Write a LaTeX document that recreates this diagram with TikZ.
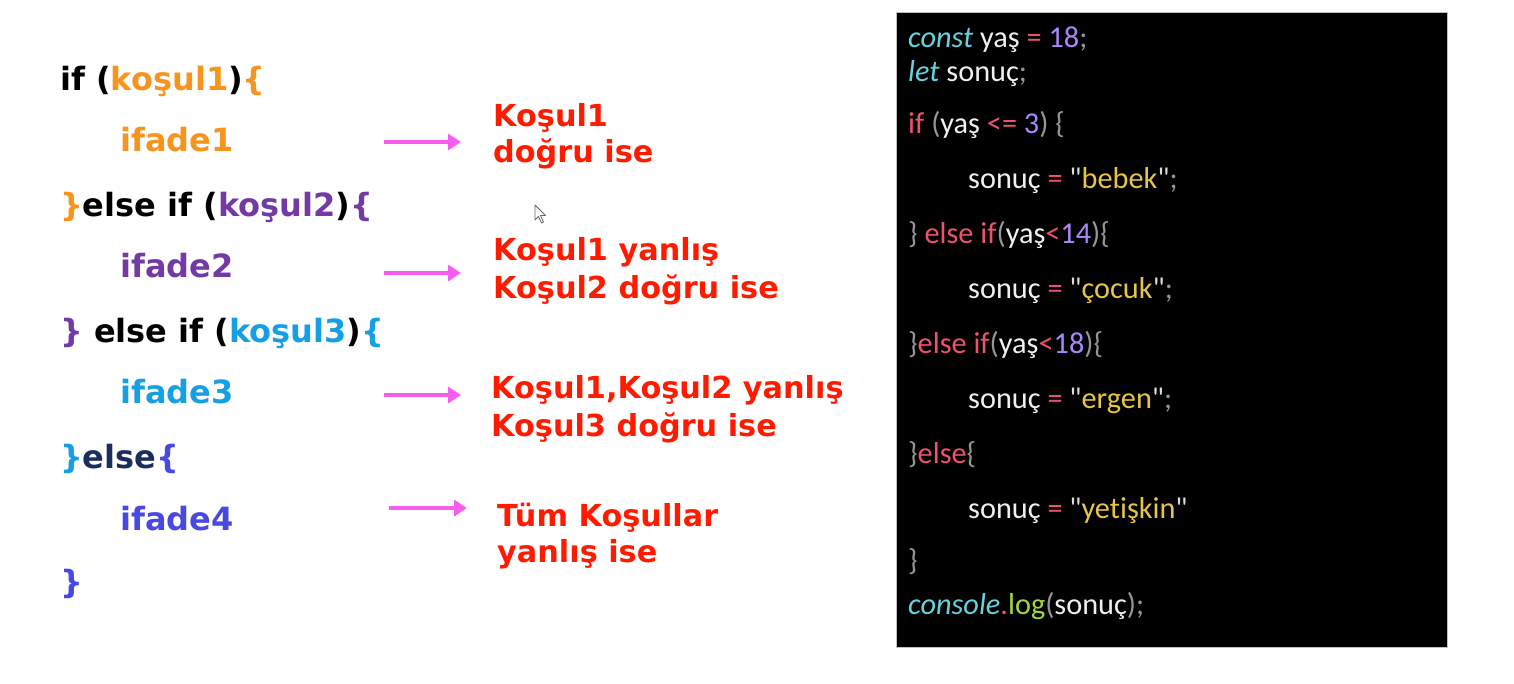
\documentclass[tikz,border=0pt]{standalone}
\usepackage{fontspec}
\usetikzlibrary{arrows.meta}
\newfontfamily\slidefont{DejaVu Sans}
\newfontfamily\codefont[Ligatures=CommonOff]{Carlito}

% slide colours
\definecolor{korange}{RGB}{247,148,30}
\definecolor{kpurple}{RGB}{115,58,165}
\definecolor{kcyan}{RGB}{22,160,228}
\definecolor{knavy}{RGB}{28,45,92}
\definecolor{kblue}{RGB}{72,72,226}
\definecolor{notered}{RGB}{255,26,0}
\definecolor{pinkarrow}{RGB}{245,92,240}
% editor colours
\definecolor{cwhite}{RGB}{240,240,240}
\definecolor{ckey}{RGB}{102,210,222}
\definecolor{cop}{RGB}{238,82,110}
\definecolor{cnum}{RGB}{170,135,250}
\definecolor{cpun}{RGB}{150,150,150}
\definecolor{cquo}{RGB}{220,220,220}
\definecolor{cstr}{RGB}{232,196,72}
\definecolor{clog}{RGB}{160,215,60}

\tikzset{
  syntax/.style={anchor=base west, inner sep=0pt, text=black,
    font=\slidefont\bfseries\fontsize{32}{36}\selectfont},
  note/.style={anchor=base west, inner sep=0pt, text=notered,
    font=\slidefont\bfseries\fontsize{30.3}{36}\selectfont},
  code/.style={anchor=base west, inner sep=0pt, text=cwhite,
    font=\codefont\fontsize{30.3}{36}\selectfont},
  pinkpointer/.style={draw=pinkarrow, line width=3.8pt,
    -{Triangle[length=13pt,width=16pt,fill=pinkarrow]}},
}

\begin{document}
\begin{tikzpicture}[x=1pt,y=-1pt]
\fill[white] (0,0) rectangle (1514,683);
\useasboundingbox (0,0) rectangle (1514,683);

% ---- general if / else if / else form ----
\node[syntax] (l1) at (60,90)  {if ({\color{korange}koşul1}){\color{korange}\{}};
\node[syntax] (l2) at (120,151) {\color{korange}ifade1};
\node[syntax] (l3) at (60,216) {{\color{korange}\}}else if ({\color{kpurple}koşul2}){\color{kpurple}\{}};
\node[syntax] (l4) at (120,277) {\color{kpurple}ifade2};
\node[syntax] (l5) at (60,342) {{\color{kpurple}\}} else if ({\color{kcyan}koşul3}){\color{kcyan}\{}};
\node[syntax] (l6) at (120,403) {\color{kcyan}ifade3};
\node[syntax] (l7) at (60,468) {{\color{kcyan}\}}{\color{knavy}else}{\color{kblue}\{}};
\node[syntax] (l8) at (120,530) {\color{kblue}ifade4};
\node[syntax] (l9) at (60,593) {\color{kblue}\}};

% ---- explanations ----
\node[note] (n1a) at (493,126) {Koşul1};
\node[note] (n1b) at (493,162) {doğru ise};
\node[note] (n2a) at (493,260) {Koşul1 yanlış};
\node[note] (n2b) at (493,298) {Koşul2 doğru ise};
\node[note] (n3a) at (491,398) {Koşul1,Koşul2 yanlış};
\node[note] (n3b) at (491,436) {Koşul3 doğru ise};
\node[note] (n4a) at (497,526) {Tüm Koşullar};
\node[note] (n4b) at (497,562) {yanlış ise};

% ---- arrows ----
\coordinate (a1s) at (384,142); \coordinate (a1e) at (461,142);
\coordinate (a2s) at (384,273); \coordinate (a2e) at (461,273);
\coordinate (a3s) at (384,395); \coordinate (a3e) at (461,395);
\coordinate (a4s) at (389,508); \coordinate (a4e) at (467,508);
\draw[pinkpointer] (a1s) -- (a1e);
\draw[pinkpointer] (a2s) -- (a2e);
\draw[pinkpointer] (a3s) -- (a3e);
\draw[pinkpointer] (a4s) -- (a4e);

% ---- mouse pointer ----
\draw[fill=white, draw=gray!80!black, line width=0.8pt, line join=round]
  (535,205) -- (535,220) -- (538.5,216.5) -- (541.5,223) -- (543.5,222)
  -- (540.5,215.5) -- (545.5,215.5) -- cycle;

% ---- editor panel ----
\path[fill=black, draw=gray!50, line width=0.8pt] (896,12) rectangle (1447,647);

\node[code] (c1)  at (908,47)  {{\itshape\color{ckey}const} yaş {\color{cop}=} {\color{cnum}18}{\color{cpun};}};
\node[code] (c2)  at (908,81)  {{\itshape\color{ckey}let} sonuç{\color{cpun};}};
\node[code] (c3)  at (908,133) {{\color{cop}if} {\color{cpun}(}yaş {\color{cop}<=} {\color{cnum}3}{\color{cpun})} {\color{cpun}\{}};
\node[code] (c4)  at (968,188) {sonuç {\color{cop}=} {\color{cquo}"}{\color{cstr}bebek}{\color{cquo}"}{\color{cpun};}};
\node[code] (c5)  at (908,243) {{\color{cpun}\}} {\color{cop}else if}{\color{cpun}(}yaş{\color{cop}<}{\color{cnum}14}{\color{cpun})\{}};
\node[code] (c6)  at (968,298) {sonuç {\color{cop}=} {\color{cquo}"}{\color{cstr}çocuk}{\color{cquo}"}{\color{cpun};}};
\node[code] (c7)  at (908,353) {{\color{cpun}\}}{\color{cop}else if}{\color{cpun}(}yaş{\color{cop}<}{\color{cnum}18}{\color{cpun})\{}};
\node[code] (c8)  at (968,408) {sonuç {\color{cop}=} {\color{cquo}"}{\color{cstr}ergen}{\color{cquo}"}{\color{cpun};}};
\node[code] (c9)  at (908,463) {{\color{cpun}\}}{\color{cop}else}{\color{cpun}\{}};
\node[code] (c10) at (968,518) {sonuç {\color{cop}=} {\color{cquo}"}{\color{cstr}yetişkin}{\color{cquo}"}};
\node[code] (c11) at (908,570) {\color{cpun}\}};
\node[code] (c12) at (908,614) {{\itshape\color{ckey}console}{\color{cop}.}{\color{clog}log}{\color{cpun}(}sonuç{\color{cpun});}};
\end{tikzpicture}
\end{document}
